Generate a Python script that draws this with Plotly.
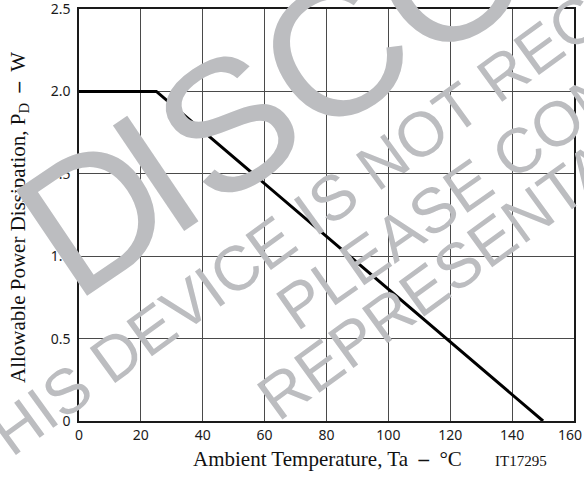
import math
import plotly.graph_objects as go

# Power derating: allowable dissipation vs ambient temperature
temperature_c = [0, 25, 150]
power_w = [2.0, 2.0, 0.0]

x_ticks = [0, 20, 40, 60, 80, 100, 120, 140, 160]
# last label padded with a transparent digit so it stays inside the page edge
x_tick_text = ["0", "20", "40", "60", "80", "100", "120", "140",
               "160<span style='color:rgba(0,0,0,0)'>0</span>"]
y_ticks = [0, 0.5, 1.0, 1.5, 2.0, 2.5]
y_tick_text = ["0", "0.5", "1.0", "1.5", "2.0", "2.5"]

x_title = "Ambient Temperature, Ta  <b>–</b>  °C"
y_title = "Allowable Power Dissipation, P<sub>D</sub>  <b>–</b>  W"
drawing_id = "IT17295"

# Status stamp printed across the sheet (the large first word is set in two pieces
# so its letters can be spaced a little tighter)
stamp_text = ["D", "ISCONTINUED", "THIS DEVICE IS NOT RECOMMENDED", "PLEASE CONSULT", "REPRESENTATIVE"]
stamp_anchor_word = ["D", "ISCONTINUED", "DEVICE", "PLEASE", "REPRESENTATIVE"]

W, H = 584, 477
ML, MR, MT, MB = 79, 10, 9, 56
PW, PH = W - ML - MR, H - MT - MB

# Arial / Liberation Sans advance widths (em)
ADV = {"A": .667, "B": .667, "C": .722, "D": .722, "E": .667, "F": .611, "G": .778,
       "H": .722, "I": .278, "L": .556, "M": .833, "N": .722, "O": .778, "P": .667,
       "R": .722, "S": .667, "T": .611, "U": .722, "V": .667, "W": .944, " ": .278}


def advance(s):
    return sum(ADV.get(c, .6) for c in s)


def px_to_paper(x, y):
    return (x - ML) / PW, (MT + PH - y) / PH


def stamp_line(text, word, base_x, base_y, size, angle):
    """Rotated label placed by the baseline start of one of its words."""
    th = math.radians(angle)
    ux, uy = math.cos(th), -math.sin(th)
    vx, vy = -math.sin(th), -math.cos(th)
    lead = advance(text[:text.index(word)]) * size
    along = advance(text) * size / 2 - lead
    rise = 0.3465 * size
    cx = base_x + ux * along + vx * rise
    cy = base_y + uy * along + vy * rise
    xp, yp = px_to_paper(cx, cy)
    return dict(text=text, x=xp, y=yp, xref="paper", yref="paper",
                xanchor="center", yanchor="middle", showarrow=False,
                textangle=-angle,
                font=dict(family="Liberation Sans", size=size, color="#bcbdc0"))


stamp_geom = [
    (74, 304, 185, 34),
    (170, 240, 185, 34),
    (110, 386, 63, 36),
    (295, 334, 63, 35),
    (274, 425, 63, 36),
]

fig = go.Figure()
fig.add_trace(go.Scatter(x=temperature_c, y=power_w, mode="lines",
                         line=dict(color="#000000", width=3),
                         hoverinfo="skip", showlegend=False, cliponaxis=False))

axis_common = dict(showgrid=True, gridcolor="#4a4a4a", gridwidth=1,
                   showline=True, linecolor="#1a1a1a", linewidth=1.5, mirror=True,
                   zeroline=False, ticks="", automargin=False, ticklabeloverflow="allow",
                   tickfont=dict(family="Noto Sans", size=14, color="#1a1a1a"))

fig.update_xaxes(range=[0, 160], tickvals=x_ticks, ticktext=x_tick_text,
                 ticklabelstandoff=0, **axis_common)
fig.update_yaxes(range=[0, 2.5], tickvals=y_ticks, ticktext=y_tick_text,
                 ticklabelstandoff=4, **axis_common)

annotations = []
tx, ty = px_to_paper(327, 459.5)
annotations.append(dict(text=x_title, x=tx, y=ty, xref="paper", yref="paper",
                        xanchor="center", yanchor="middle", showarrow=False,
                        font=dict(family="Liberation Serif", size=21, color="#111111")))
ix, iy = px_to_paper(521, 461)
annotations.append(dict(text=drawing_id, x=ix, y=iy, xref="paper", yref="paper",
                        xanchor="center", yanchor="middle", showarrow=False,
                        font=dict(family="Liberation Serif", size=15, color="#111111")))
yx, yy = px_to_paper(19, 218)
annotations.append(dict(text=y_title, x=yx, y=yy, xref="paper", yref="paper",
                        xanchor="center", yanchor="middle", showarrow=False,
                        textangle=-90,
                        font=dict(family="Liberation Serif", size=21, color="#111111")))

for text, word, (bx, by, size, ang) in zip(stamp_text, stamp_anchor_word, stamp_geom):
    annotations.append(stamp_line(text, word, bx, by, size, ang))

fig.update_layout(width=W, height=H,
                  margin=dict(l=ML, r=MR, t=MT, b=MB, pad=0),
                  paper_bgcolor="white", plot_bgcolor="white",
                  annotations=annotations)

fig.write_html("out.html")
